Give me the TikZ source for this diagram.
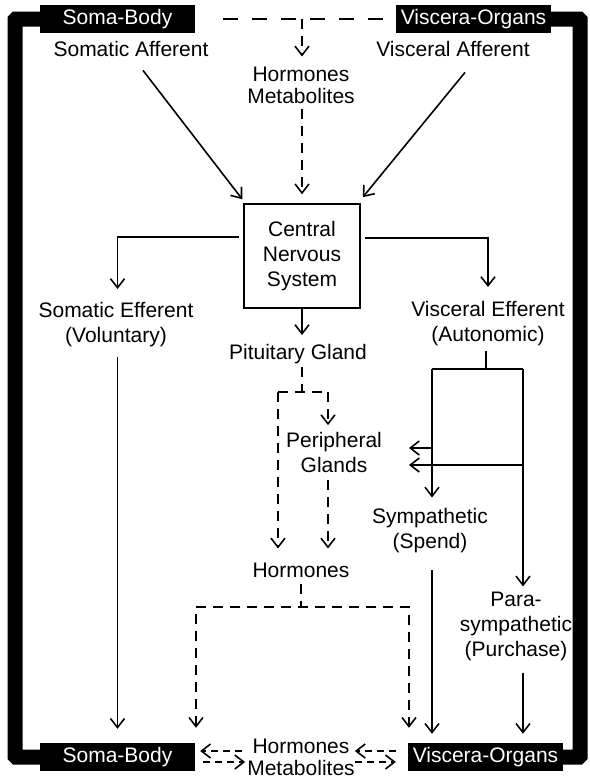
\documentclass[tikz,border=0pt]{standalone}
\usepackage{fontspec}
\setmainfont{Liberation Sans}
\usetikzlibrary{arrows.meta}

\begin{document}
\begin{tikzpicture}[x=1pt,y=-1pt,
    >={Straight Barb[length=9pt,width=14pt]},
    txt/.style={align=center,inner sep=0pt,font=\fontsize{21}{25}\selectfont},
    txtc/.style={align=center,inner sep=0pt,font=\fontsize{21}{22}\selectfont},
    lbl/.style={fill=black,text=white,inner sep=0pt,minimum width=155pt,minimum height=28pt,
        text height=15pt,text depth=4.5pt,font=\fontsize{21}{25}\selectfont},
    ln/.style={line width=1.6pt},
    dsh/.style={line width=1.6pt,dash pattern=on 10pt off 7pt},
    dshtop/.style={line width=1.6pt,dash pattern=on 15pt off 14pt},
    dshs/.style={line width=1.6pt,dash pattern=on 7pt off 5pt},
    bigbar/.style={line width=15pt,rounded corners=1pt}]
    \useasboundingbox (0,0) rectangle (589,779);

    \node[lbl] (somatop) at (117.5,19) {Soma-Body};
    \node[lbl] (visctop) at (473.5,19) {Viscera-Organs};
    \node[lbl] (somabot) at (117.5,757) {Soma-Body};
    \node[lbl] (viscbot) at (485.5,757) {Viscera-Organs};
    \draw[bigbar] (somatop.west) -- (15,19) -- (15,757) -- (somabot.west);
    \draw[bigbar] (visctop.east) -- (580,19) -- (580,757) -- (viscbot.east);

    \node[txt] (saff) at (131,48.5) {Somatic Afferent};
    \node[txt] (vaff) at (453,48.5) {Visceral Afferent};
    \node[txtc] (hormtop) at (301,85) {Hormones\\Metabolites};
    \node[txt,draw,line width=1.5pt,minimum width=116pt,minimum height=104pt] (cns) at (302,256) {Central\\Nervous\\System};
    \node[txt] (seff) at (116,324.5) {Somatic Efferent\\(Voluntary)};
    \node[txt] (veff) at (488,323.5) {Visceral Efferent\\(Autonomic)};
    \node[txt] (pit) at (298,354) {Pituitary Gland};
    \node[txt] (per) at (334,452.5) {Peripheral\\Glands};
    \node[txt] (hormmid) at (301,570) {Hormones};
    \node[txt] (symp) at (430,531) {Sympathetic\\(Spend)};
    \node[txt] (para) at (516,626) {Para-\\sympathetic\\(Purchase)};
    \node[txtc] (hormbot) at (301,757) {Hormones\\Metabolites};

    \coordinate (topj) at (302,19);
    \coordinate (pj) at (302,392);
    \coordinate (pl) at (278,392);
    \coordinate (pr) at (328,392);
    \coordinate (hj) at (301,607);
    \coordinate (hl) at (196,607);
    \coordinate (hr) at (409,607);
    \coordinate (vt) at (486,369);
    \coordinate (vl) at (432,369);
    \coordinate (vr) at (523,369);
    \coordinate (ml) at (432,465);
    \coordinate (mr) at (523,465);
    \coordinate (al) at (432,448);
    \coordinate (bu) at (0,751);
    \coordinate (bd) at (0,762);

    \draw[dshtop,shorten <=28pt,shorten >=6pt] (somatop.east) -- (visctop.west);
    \draw[dsh,->,shorten >=10pt] (topj) -- (topj |- hormtop.north);
    \draw[ln,->] ([shift={(12,14)}]saff.south) -- ([shift={(-1,-4)}]cns.north west);
    \draw[ln,->] ([shift={(12,16)}]vaff.south) -- ([shift={(2,-6)}]cns.north east);
    \draw[dsh,->,shorten <=5pt,shorten >=9pt] (cns.north |- hormtop.south) -- (cns.north);

    \draw[ln,->,shorten <=4pt,shorten >=13pt] ([yshift=19pt]cns.west) -| (somabot.north |- seff.north);
    \draw[ln,->,shorten <=4pt,shorten >=14pt] ([yshift=18pt]cns.east) -| (veff.north);
    \draw[ln,->,shorten >=9pt] (cns.south) -- (cns.south |- pit.north);
    \draw[ln,->,shorten <=10pt,shorten >=14pt] (somabot.north |- seff.south) -- (somabot.north);

    \draw[dsh,shorten <=3pt] (pj |- pit.south) -- (pj);
    \draw[dsh] (pl) -- (pr);
    \draw[dsh,->,shorten >=14pt] (pl) -- (pl |- hormmid.north);
    \draw[dsh,->,shorten >=7pt] (pr) -- (pr |- per.north);
    \draw[dsh,->,shorten <=7pt,shorten >=14pt] (pr |- per.south) -- (pr |- hormmid.north);

    \draw[dsh,shorten <=6pt] (hj |- hormmid.south) -- (hj);
    \draw[dsh,<->,shorten <=15pt,shorten >=15pt] (hl |- somabot.north) -- (hl) -- (hr) -- (hr |- viscbot.north);

    \draw[ln,shorten <=5pt] (vt |- veff.south) -- (vt);
    \draw[ln] (vl) -- (vr);
    \draw[ln] (ml) -- (mr);
    \draw[ln,->] (ml) -- ++(-23,0);
    \draw[ln,->] (al) -- ++(-23,0);
    \draw[ln,->,shorten >=11pt] (vl) -- (vl |- symp.north);
    \draw[ln,->,shorten >=5pt] (vr) -- (vr |- para.north);
    \draw[ln,->,shorten <=17pt,shorten >=9pt] (vl |- symp.south) -- (vl |- viscbot.north);
    \draw[ln,->,shorten <=12pt,shorten >=9pt] (vr |- para.south) -- (vr |- viscbot.north);

    \draw[dshs,->,shorten <=5pt,shorten >=5pt] (hormbot.west |- bu) -- (somabot.east |- bu);
    \draw[dshs,->,shorten <=8pt,shorten >=2pt] (somabot.east |- bd) -- (hormbot.west |- bd);
    \draw[dshs,->,shorten <=12pt] (viscbot.west |- bu) -- (hormbot.east |- bu);
    \draw[dshs,->,shorten >=12pt] (hormbot.east |- bd) -- (viscbot.west |- bd);
\end{tikzpicture}
\end{document}
